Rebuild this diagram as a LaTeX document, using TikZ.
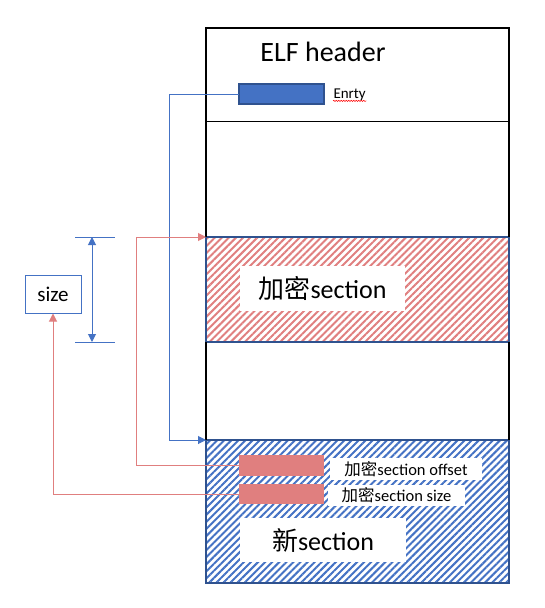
\documentclass[tikz,border=0pt]{standalone}
\usepackage{fontspec}
\setmainfont{Carlito}
\newfontfamily\cjk{Noto Sans CJK SC}
\usepackage{tikz}
\usetikzlibrary{positioning, calc, arrows.meta, patterns.meta, decorations.pathmorphing}

\definecolor{officeblue}{RGB}{68,114,196}
\definecolor{borderblue}{RGB}{47,82,143}
\definecolor{officered}{RGB}{224,127,127}

\begin{document}
\begin{tikzpicture}[x=1pt, y=-1pt, >={Triangle[length=8pt,width=8pt]}, line width=1pt]
        % Define block styles
        \tikzstyle{block} = [rectangle, minimum width=303, inner sep=0, outer sep=0]
        \tikzstyle{hatched} = [block, draw=borderblue, line width=1.5pt]
        \tikzstyle{field} = [rectangle, minimum width=85, minimum height=20, inner sep=0, outer sep=0]
        \tikzstyle{whitelabel} = [rectangle, fill=white, inner sep=0, outer sep=0]
        \tikzstyle{frame} = [line width=1.6pt]

        \useasboundingbox (0,0) rectangle (544,608);

        % Place main nodes
        \node [block, anchor=north west, minimum height=93] (header) at (206,28) {};
        \node [block, below=0pt of header, minimum height=116] (gap1) {};
        \node [hatched, below=0pt of gap1, minimum height=105, pattern={Lines[angle=45,distance=5pt,line width=2pt]}, pattern color=officered] (encsec) {};
        \node [block, below=0pt of encsec, minimum height=98] (gap2) {};
        \node [hatched, below=0pt of gap2, minimum height=143, pattern={Lines[angle=45,distance=5pt,line width=2pt]}, pattern color=officeblue] (newsec) {};

        % Draw the outer frame
        \draw [frame] (gap1.south west) |- (header.north east) -- (gap1.south east);
        \draw [frame] (gap2.north west) -- (gap2.south west);
        \draw [frame] (gap2.north east) -- (gap2.south east);
        \draw (header.south west) -- (header.south east);

        % Place texts inside the header
        \node [anchor=base, inner sep=0, font=\fontsize{28}{30}\selectfont] (elf) at (323,61) {ELF header};
        \node [field, fill=officeblue, draw=borderblue, line width=1.2pt] (entry) at (281.5,94) {};
        \node [anchor=base west, inner sep=0, font=\fontsize{15}{17}\selectfont] (enrty) at (333,98) {Enrty};
        \draw [red, line width=0.5pt, decorate, decoration={snake, amplitude=0.6pt, segment length=2.5pt}] (enrty.south west) -- (enrty.south east);

        % Place labels inside the sections
        \node [whitelabel, minimum width=165, minimum height=45, font=\fontsize{26}{28}\selectfont] (enclabel) at (322.5,288.5) {{\cjk 加密}section};
        \node [field, fill=officered, minimum height=21] (offsetfield) at (281.5,465.5) {};
        \node [field, fill=officered] (sizefield) at (281.5,494) {};
        \node [whitelabel, minimum width=152, minimum height=22, font=\fontsize{16.5}{18}\selectfont] (offsetlabel) at (406,469) {{\cjk 加密}section offset};
        \node [whitelabel, minimum width=137, minimum height=21, font=\fontsize{16.5}{18}\selectfont] (sizelabel) at (396.5,495.5) {{\cjk 加密}section size};
        \node [whitelabel, minimum width=166, minimum height=44, font=\fontsize{26}{28}\selectfont] (newlabel) at (323,540) {{\cjk 新}section};

        % Size box and dimension
        \node [draw=officeblue, minimum width=56, minimum height=38, inner sep=0, font=\fontsize{21}{23}\selectfont] (sizebox) at (53,294) {size};
        \coordinate (dimtop) at (92,237);
        \coordinate (dimbot) at (92,342);
        \draw [officeblue] ($(dimtop)+(-17,0)$) -- ($(dimtop)+(23,0)$);
        \draw [officeblue] ($(dimbot)+(-17,0)$) -- ($(dimbot)+(23,0)$);
        \draw [<->, officeblue] (dimtop) -- (dimbot);

        % Draw connections as arrows
        \draw [->, officeblue] (entry.west) -- ++(-70,0) |- (newsec.north west);
        \draw [->, officered] (offsetfield.west) -- ++(-103,0) |- (encsec.north west);
        \draw [->, officered] (sizefield.west) -| (sizebox.south);

    \end{tikzpicture}
\end{document}
